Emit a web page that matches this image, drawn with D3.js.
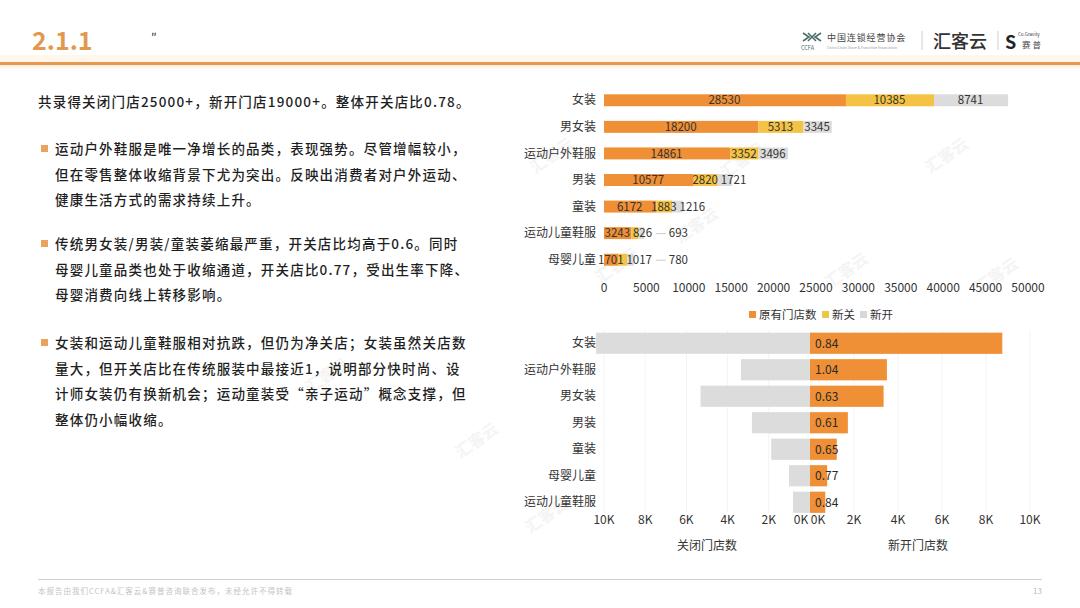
<!DOCTYPE html>
<meta charset='utf-8'>
<style>
body { margin: 0; background: #fff; }
svg { display: block; font-family: 'Noto Sans CJK SC', 'Noto Sans', sans-serif; }
.body-text { font-size: 13.5px; fill: #1f1f1f; letter-spacing: 1.2px; font-weight: 500; }
.lbl { font-size: 11.5px; fill: #333; }
.cat { font-size: 12px; fill: #333; }
.tick { font-size: 12px; fill: #333; }
</style>
<svg id='page' width='1080' height='608'></svg>
<script src="https://cdn.jsdelivr.net/npm/d3@7/dist/d3.min.js"></script>
<script>

// categories in the top (stacked) chart
const categories = ['女装', '男女装', '运动户外鞋服', '男装', '童装', '运动儿童鞋服', '母婴儿童'];
const existing = [28530, 18200, 14861, 10577, 6172, 3243, 1701];   // 原有门店数
const closed   = [10385, 5313, 3352, 2820, 1883, 826, 1017];       // 新关
const opened   = [8741, 3345, 3496, 1721, 1216, 693, 780];         // 新开
const topTicks = [0, 5000, 10000, 15000, 20000, 25000, 30000, 35000, 40000, 45000, 50000];

// bottom (butterfly) chart, sorted by new stores
const butterflyOrder = ['女装', '运动户外鞋服', '男女装', '男装', '童装', '母婴儿童', '运动儿童鞋服'];
const ratios = [0.84, 1.04, 0.63, 0.61, 0.65, 0.77, 0.84];
const sideTicks = [0, 2000, 4000, 6000, 8000, 10000];

const seriesNames = ['原有门店数', '新关', '新开'];
const colors = ['#EF8F36', '#F5C343', '#DCDCDC'];

const svg = d3.select('#page');

// ---------- page chrome ----------
svg.append('text')
  .attr('x', 32).attr('y', 50)
  .style('font-size', '25px').style('font-weight', 700)
  .style('fill', '#E2994F')
  .text('2.1.1');
svg.append('text')
  .attr('x', 151).attr('y', 42)
  .style('font-size', '12px').style('fill', '#222')
  .text('″');

const defs = svg.append('defs');
const grad = defs.append('linearGradient').attr('id', 'glow').attr('x1', 0).attr('x2', 0).attr('y1', 0).attr('y2', 1);
grad.append('stop').attr('offset', '0%').attr('stop-color', '#FCEBD8');
grad.append('stop').attr('offset', '100%').attr('stop-color', '#ffffff');
svg.append('rect').attr('x', 0).attr('y', 55).attr('width', 1080).attr('height', 7).attr('fill', '#FFF6EC');
svg.append('rect').attr('x', 0).attr('y', 62).attr('width', 1080).attr('height', 3).attr('fill', '#E6984E');
svg.append('rect').attr('x', 0).attr('y', 65).attr('width', 1080).attr('height', 4).attr('fill', 'url(#glow)');

// logos (approximate)
const logo = svg.append('g').style('fill', '#444');
const mark = logo.append('g').attr('fill', 'none').attr('stroke', '#4b6f69').attr('stroke-width', 1.6);
mark.append('path').attr('d', 'M803,33 L809,37 L803,41');
mark.append('path').attr('d', 'M821,33 L815,37 L821,41');
mark.append('path').attr('d', 'M808,33 L816,41 M816,33 L808,41');
logo.append('text').attr('x', 801).attr('y', 49.5).style('font-size', '5.5px').style('fill', '#4b6f69').text('CCFA');
logo.append('text').attr('x', 827).attr('y', 41).style('font-size', '9px').style('letter-spacing', '0.9px').text('中国连锁经营协会');
logo.append('text').attr('x', 827).attr('y', 48.5).style('font-size', '3.6px').style('fill', '#999').text('China Chain Store & Franchise Association');
logo.append('line').attr('x1', 922).attr('x2', 922).attr('y1', 31).attr('y2', 50).attr('stroke', '#ccc');
logo.append('text').attr('x', 933).attr('y', 48).style('font-size', '18px').style('font-weight', 500).style('fill', '#333').text('汇客云');
logo.append('line').attr('x1', 998).attr('x2', 998).attr('y1', 31).attr('y2', 50).attr('stroke', '#ccc');
logo.append('text').attr('x', 1005).attr('y', 49).style('font-size', '18px').style('font-weight', 700).style('fill', '#222').text('S');
logo.append('text').attr('x', 1018).attr('y', 36).style('font-size', '4.5px').text('Co.Gravity');
logo.append('text').attr('x', 1022).attr('y', 48).style('font-size', '8.5px').style('letter-spacing', '2px').text('赛普');

// faint watermarks
const marks = [[555, 160], [745, 165], [950, 160], [620, 270], [850, 275], [330, 380], [480, 445], [550, 520], [700, 230], [1000, 280]];
svg.append('g').selectAll('text').data(marks).join('text')
  .attr('transform', d => `translate(${d[0]},${d[1]}) rotate(-35)`)
  .attr('text-anchor', 'middle')
  .style('font-size', '16px').style('font-weight', 700)
  .style('fill', '#f4f4f4')
  .text('汇客云');

// footer
svg.append('line').attr('x1', 38).attr('x2', 1042).attr('y1', 579.5).attr('y2', 579.5).attr('stroke', '#cfcfcf');
svg.append('text').attr('x', 38).attr('y', 594)
  .style('font-size', '7.5px').style('fill', '#c4c4c4').style('letter-spacing', '1px')
  .text('本报告由我们CCFA&汇客云&赛普咨询联合发布，未经允许不得转载');
svg.append('text').attr('x', 1042).attr('y', 594).attr('text-anchor', 'end')
  .style('font-size', '8px').style('fill', '#bbb').text('13');

// ---------- left text block ----------
const paragraphs = [
  { bullet: false, y: 107, lines: ['共录得关闭门店25000+，新开门店19000+。整体开关店比0.78。'] },
  { bullet: true, y: 154, lines: ['运动户外鞋服是唯一净增长的品类，表现强势。尽管增幅较小，',
                                  '但在零售整体收缩背景下尤为突出。反映出消费者对户外运动、',
                                  '健康生活方式的需求持续上升。'] },
  { bullet: true, y: 249, lines: ['传统男女装/男装/童装萎缩最严重，开关店比均高于0.6。同时',
                                  '母婴儿童品类也处于收缩通道，开关店比0.77，受出生率下降、',
                                  '母婴消费向线上转移影响。'] },
  { bullet: true, y: 348, lines: ['女装和运动儿童鞋服相对抗跌，但仍为净关店；女装虽然关店数',
                                  '量大，但开关店比在传统服装中最接近1，说明部分快时尚、设',
                                  '计师女装仍有换新机会；运动童装受“亲子运动”概念支撑，但',
                                  '整体仍小幅收缩。'] }
];
const textG = svg.append('g');
paragraphs.forEach(p => {
  const x0 = p.bullet ? 55 : 38;
  if (p.bullet) {
    textG.append('rect').attr('x', 41).attr('y', p.y - 9).attr('width', 7).attr('height', 7).attr('fill', '#E9A35E');
  }
  p.lines.forEach((l, i) => {
    textG.append('text').attr('class', 'body-text')
      .attr('x', x0).attr('y', p.y + i * 25.5)
      .text(l);
  });
});

// ---------- top stacked bar chart ----------
const x1 = d3.scaleLinear().domain([0, 50000]).range([604, 1028]);
const y1 = d3.scaleBand().domain(categories).range([87, 273]).paddingInner(0.55).paddingOuter(0.275);

const rows = categories.map((c, i) => ({ cat: c, vals: [existing[i], closed[i], opened[i]] }));
const topG = svg.append('g');

topG.selectAll('text.cat').data(categories).join('text')
  .attr('class', 'cat')
  .attr('x', 596).attr('y', d => y1(d) + y1.bandwidth() / 2)
  .attr('dy', '0.35em').attr('text-anchor', 'end')
  .text(d => d);

rows.forEach(r => {
  let acc = 0;
  const segs = r.vals.map((v, k) => { const s = { k, v, a: acc, b: acc + v }; acc += v; return s; });
  const g = topG.append('g');
  g.selectAll('rect').data(segs).join('rect')
    .attr('x', d => x1(d.a))
    .attr('width', d => x1(d.b) - x1(d.a))
    .attr('y', y1(r.cat))
    .attr('height', y1.bandwidth())
    .attr('fill', d => colors[d.k]);

  // simple overlap-avoiding label layout
  let prevRight = -Infinity;
  const cy = y1(r.cat) + y1.bandwidth() / 2;
  segs.forEach(s => {
    const w = String(s.v).length * 6.6;
    const cx = (x1(s.a) + x1(s.b)) / 2;
    let left = Math.max(cx - w / 2, prevRight + 2);
    if (s.k === 2 && left > x1(s.b) + 2) {
      const lineStart = prevRight + 2;
      left = lineStart + 14;
      g.append('line')
        .attr('x1', lineStart + 1).attr('x2', lineStart + 11)
        .attr('y1', cy + 0.5).attr('y2', cy + 0.5)
        .attr('stroke', '#ccc').attr('stroke-width', 1);
    }
    g.append('text').attr('class', 'lbl')
      .attr('x', left).attr('y', cy).attr('dy', '0.36em')
      .text(s.v);
    prevRight = left + w;
  });
});

topG.selectAll('text.tick').data(topTicks).join('text')
  .attr('class', 'tick')
  .attr('x', d => x1(d)).attr('y', 292)
  .attr('text-anchor', 'middle')
  .text(d => d);

// legend
const legendX = [749, 822, 860];
const legend = svg.append('g').selectAll('g').data(seriesNames).join('g')
  .attr('transform', (d, i) => `translate(${legendX[i]},315)`);
legend.append('rect').attr('x', 0).attr('y', -4).attr('width', 7).attr('height', 7)
  .attr('fill', (d, i) => i === 2 ? '#D8D8D8' : (i === 1 ? '#E8C94A' : colors[0]));
legend.append('text').attr('x', 10).attr('dy', '0.35em')
  .style('font-size', '11.5px').style('fill', '#333').text(d => d);

// ---------- bottom butterfly chart ----------
const idx = c => categories.indexOf(c);
const xl = d3.scaleLinear().domain([0, 10000]).range([810, 604]);
const xr = d3.scaleLinear().domain([0, 10000]).range([810, 1030]);
const y2 = d3.scaleBand().domain(butterflyOrder).range([330, 515.5]).paddingInner(0.2).paddingOuter(0.1);

const bot = svg.append('g');

// faint gridlines
bot.selectAll('line.gl').data(sideTicks.slice(1)).join('line')
  .attr('x1', d => xl(d)).attr('x2', d => xl(d)).attr('y1', 330).attr('y2', 512)
  .attr('stroke', '#f3f3f3');
bot.selectAll('line.gr').data(sideTicks.slice(1)).join('line')
  .attr('x1', d => xr(d)).attr('x2', d => xr(d)).attr('y1', 330).attr('y2', 512)
  .attr('stroke', '#f3f3f3');

bot.selectAll('rect.closed').data(butterflyOrder).join('rect')
  .attr('x', d => xl(closed[idx(d)]))
  .attr('width', d => xl(0) - xl(closed[idx(d)]))
  .attr('y', d => y2(d)).attr('height', y2.bandwidth())
  .attr('fill', colors[2]);

bot.selectAll('rect.opened').data(butterflyOrder).join('rect')
  .attr('x', xr(0))
  .attr('width', d => xr(opened[idx(d)]) - xr(0))
  .attr('y', d => y2(d)).attr('height', y2.bandwidth())
  .attr('fill', colors[0]);

bot.selectAll('text.ratio').data(butterflyOrder).join('text')
  .attr('x', xr(0) + 5).attr('y', d => y2(d) + y2.bandwidth() / 2)
  .attr('dy', '0.36em')
  .style('font-size', '12px').style('fill', '#2a2a2a')
  .text((d, i) => ratios[i].toFixed(2));

bot.selectAll('text.cat2').data(butterflyOrder).join('text')
  .attr('class', 'cat')
  .attr('x', 596).attr('y', d => y2(d) + y2.bandwidth() / 2)
  .attr('dy', '0.35em').attr('text-anchor', 'end')
  .text(d => d);

const kfmt = d => (d / 1000) + 'K';
bot.selectAll('text.tl').data(sideTicks).join('text')
  .attr('class', 'tick')
  .attr('x', d => xl(d) - (d === 0 ? 9 : 0)).attr('y', 524)
  .attr('text-anchor', 'middle').text(kfmt);
bot.selectAll('text.tr').data(sideTicks).join('text')
  .attr('class', 'tick')
  .attr('x', d => xr(d) + (d === 0 ? 8 : 0)).attr('y', 524)
  .attr('text-anchor', 'middle').text(kfmt);

bot.append('text').attr('class', 'tick').attr('x', 707).attr('y', 550).attr('text-anchor', 'middle').text('关闭门店数');
bot.append('text').attr('class', 'tick').attr('x', 918).attr('y', 550).attr('text-anchor', 'middle').text('新开门店数');

</script>
